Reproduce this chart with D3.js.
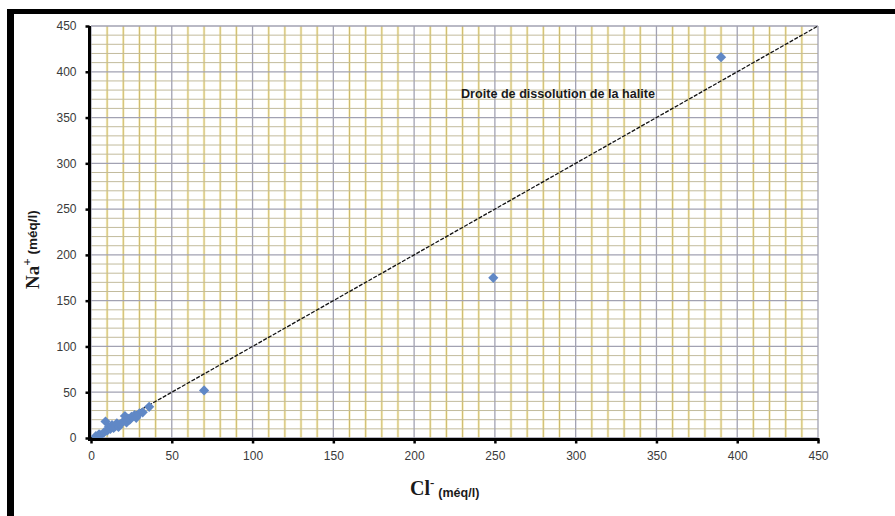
<!DOCTYPE html>
<html>
<head>
<meta charset="utf-8">
<script src="https://cdn.jsdelivr.net/npm/d3@7"></script>
<style>
  html, body { margin: 0; padding: 0; background: #ffffff; }
  svg { display: block; }
</style>
</head>
<body>
<svg id="chart" width="895" height="516"></svg>
<script>
// ---- data ----
const chloride = [3, 5, 6, 8, 9, 10, 11, 12, 13, 14, 15, 16, 17, 18, 20, 21, 22, 23, 24, 25, 27, 28, 30, 32, 36, 70, 249, 390];
const sodium   = [2, 4, 3, 6, 18, 8, 12, 10, 14, 11, 13, 16, 12, 15, 18, 24, 17, 21, 20, 23, 25, 22, 27, 28, 34, 52, 175, 416];
const xTicks = [0, 50, 100, 150, 200, 250, 300, 350, 400, 450];
const yTicks = [0, 50, 100, 150, 200, 250, 300, 350, 400, 450];
const lineLabel = "Droite de dissolution de la halite";
const xTitle = ["Cl", "-", "(méq/l)"];
const yTitle = ["Na", "+", " (méq/l)"];

// ---- layout ----
const svg = d3.select("#chart");
const x = d3.scaleLinear().domain([0, 450]).range([91, 818]);
const y = d3.scaleLinear().domain([0, 450]).range([438, 26]);

svg.append("rect").attr("width", 895).attr("height", 516).attr("fill", "#ffffff");

// black frame (top and left)
svg.append("rect").attr("x", 7).attr("y", 9).attr("width", 888).attr("height", 5).attr("fill", "#000");
svg.append("rect").attr("x", 7).attr("y", 9).attr("width", 7).attr("height", 507).attr("fill", "#000");

const grid = svg.append("g");
const minor = d3.range(0, 451, 10);

// vertical gridlines
minor.forEach(v => {
  if (v % 50 === 0) return;
  grid.append("line").attr("x1", x(v)).attr("x2", x(v)).attr("y1", y(450)).attr("y2", y(0))
    .attr("stroke", "#f7efc8").attr("stroke-width", 2.6);
});
minor.forEach(v => {
  if (v % 50 === 0) return;
  grid.append("line").attr("x1", x(v)).attr("x2", x(v)).attr("y1", y(450)).attr("y2", y(0))
    .attr("stroke", "#cdbb6c").attr("stroke-width", 1);
});
// horizontal minor gridlines
minor.forEach(v => {
  if (v % 50 === 0) return;
  grid.append("line").attr("x1", x(0)).attr("x2", x(450)).attr("y1", y(v)).attr("y2", y(v))
    .attr("stroke", "#c2bb9c").attr("stroke-width", 1);
});
// major gridlines
xTicks.forEach(v => {
  grid.append("line").attr("x1", x(v)).attr("x2", x(v)).attr("y1", y(450)).attr("y2", y(0))
    .attr("stroke", "#a2a2b2").attr("stroke-width", 1.3);
});
yTicks.forEach(v => {
  grid.append("line").attr("x1", x(0)).attr("x2", x(450)).attr("y1", y(v)).attr("y2", y(v))
    .attr("stroke", "#a2a2b2").attr("stroke-width", 1.3);
});

// halite dissolution line y = x
svg.append("line")
  .attr("x1", x(0)).attr("y1", y(0)).attr("x2", x(450)).attr("y2", y(450))
  .attr("stroke", "#111").attr("stroke-width", 1.3).attr("stroke-dasharray", "4,1.5");

// points
const sym = d3.symbol().type(d3.symbolSquare).size(52);
svg.append("g").selectAll("path").data(chloride.map((c, i) => [c, sodium[i]])).join("path")
  .attr("d", sym)
  .attr("transform", d => `translate(${x(d[0])},${y(d[1])}) rotate(45)`)
  .attr("fill", "#6088c6");

// axes
const xAxis = d3.axisBottom(x).tickValues(xTicks).tickSize(4).tickPadding(8);
const yAxis = d3.axisLeft(y).tickValues(yTicks).tickSize(4).tickPadding(9);
const gx = svg.append("g").attr("transform", `translate(0,${y(0) + 1.5})`).call(xAxis);
const gy = svg.append("g").attr("transform", `translate(${x(0) - 1.5},0)`).call(yAxis);
[gx, gy].forEach(g => {
  g.select(".domain").attr("stroke", "#000").attr("stroke-width", 3);
  g.selectAll(".tick line").attr("stroke", "#000").attr("stroke-width", 2.5);
  g.selectAll(".tick text").attr("fill", "#3a3a3a")
    .style("font-family", "'Liberation Sans', Arial, sans-serif").style("font-size", "12px");
});
gx.select(".domain").attr("d", `M${x(0) - 3},0H${x(450) + 1.5}`);
gy.select(".domain").attr("d", `M0,${y(0) + 3}V${y(450)}`);

// line label
svg.append("text")
  .attr("x", 461).attr("y", 98)
  .attr("textLength", 194).attr("lengthAdjust", "spacingAndGlyphs")
  .style("font-family", "'Liberation Sans', Arial, sans-serif")
  .style("font-weight", "bold").style("font-size", "13px").attr("fill", "#1a1a1a")
  .text(lineLabel);

// x title
const xt = svg.append("text").attr("x", 410).attr("y", 495).attr("fill", "#1a1a1a");
xt.append("tspan").style("font-family", "'Liberation Serif', 'Times New Roman', serif")
  .style("font-weight", "bold").style("font-size", "20px").text(xTitle[0]);
xt.append("tspan").attr("dy", -8).style("font-family", "'Liberation Serif', serif")
  .style("font-weight", "bold").style("font-size", "13px").text(xTitle[1]);
xt.append("tspan").attr("dx", 4).attr("dy", 10)
  .style("font-family", "'Liberation Sans', Arial, sans-serif")
  .style("font-weight", "bold").style("font-size", "12.5px").text(xTitle[2]);

// y title
const yt = svg.append("text").attr("transform", "translate(39,289) rotate(-90)").attr("fill", "#1a1a1a");
yt.append("tspan").style("font-family", "'Liberation Serif', 'Times New Roman', serif")
  .style("font-weight", "bold").style("font-size", "19px").text(yTitle[0]);
yt.append("tspan").attr("dy", -8).style("font-family", "'Liberation Serif', serif")
  .style("font-weight", "bold").style("font-size", "13px").text(yTitle[1]);
yt.append("tspan").attr("dy", 6)
  .style("font-family", "'Liberation Sans', Arial, sans-serif")
  .style("font-weight", "bold").style("font-size", "13.5px").text(yTitle[2]);
</script>
</body>
</html>
